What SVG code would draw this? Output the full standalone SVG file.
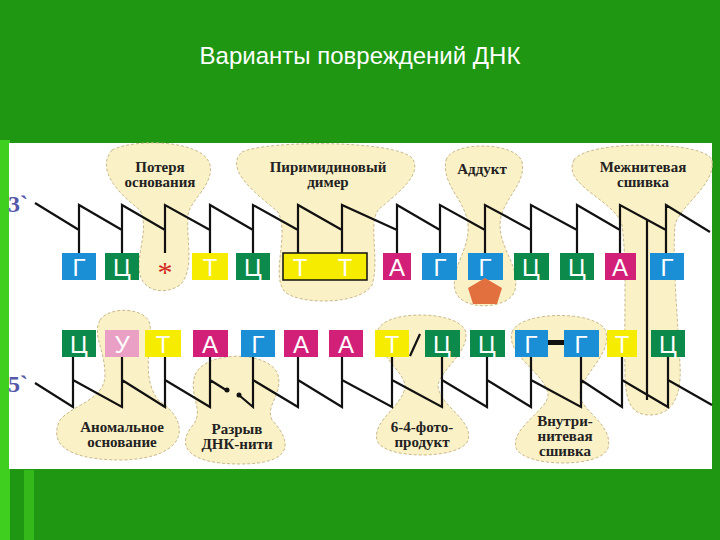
<svg xmlns="http://www.w3.org/2000/svg" width="720" height="540" viewBox="0 0 720 540">
<style>
.b{fill:#fbf1c6;stroke:#c9b98a;stroke-width:1;stroke-dasharray:3 2}
.s{fill:none;stroke:#111;stroke-width:2.2}
.lb{font-family:"Liberation Serif",serif;font-weight:bold;font-size:15px;fill:#222;text-anchor:middle}
.n{font-family:"Liberation Sans",sans-serif;font-size:24px;text-anchor:middle;fill:#fff}
.k{fill:#111}
.bl{fill:#1a8fd6}.gr{fill:#0b8a4c}.ye{fill:#f5ec00}.ma{fill:#d21f78}.pi{fill:#e9a0c4}
</style>
<rect width="720" height="540" fill="#1f9712"/>
<rect x="0" y="140" width="10" height="400" fill="#3fcf1e"/>
<rect x="24" y="470" width="10" height="70" fill="#35b81a"/>
<text x="360" y="64" font-family="Liberation Sans,sans-serif" font-size="24" fill="#fff" text-anchor="middle">Варианты повреждений ДНК</text>
<rect x="9" y="143" width="703" height="326" fill="#fff"/>
<g id="bubbles">
<path id="b1" class="b" d="M112,150 C135,138 205,140 210,165 C214,185 190,200 188,215 C186,240 195,270 180,285 C165,295 145,292 140,275 C135,255 150,230 140,210 C120,195 95,170 112,150Z"/>
<path id="b2" class="b" d="M242,152 C268,140 395,140 412,158 C424,175 395,195 378,210 C368,225 380,260 372,285 C360,305 300,305 285,292 C270,275 290,235 278,212 C262,198 222,170 242,152Z"/>
<path id="b3" class="b" d="M446,160 C453,140 517,142 522,162 C527,185 500,200 500,225 C500,250 520,265 515,290 C510,310 460,312 455,290 C450,268 470,250 468,225 C466,200 441,185 446,160Z"/>
<path id="b4" class="b" d="M574,160 C586,140 704,140 712,160 C716,185 680,205 675,225 C672,260 678,320 680,365 C682,400 670,415 650,415 C630,415 625,400 625,370 C624,320 627,260 622,225 C615,200 561,185 574,160Z"/>
<path id="b5" class="b" d="M100,320 C110,305 148,308 150,325 C153,345 140,375 158,400 C190,420 192,458 122,460 C60,460 50,440 60,420 C72,405 105,400 105,375 C105,350 92,335 100,320Z"/>
<path id="b6" class="b" d="M195,375 C205,350 270,350 278,375 C283,395 265,405 272,420 C295,445 290,464 240,464 C186,464 176,445 193,425 C205,410 188,395 195,375Z"/>
<path id="b7" class="b" d="M378,330 C385,310 455,310 465,330 C472,350 440,370 438,385 C438,405 474,420 468,440 C462,460 382,460 377,440 C372,420 405,405 405,385 C403,370 372,350 378,330Z"/>
<path id="b8" class="b" d="M512,332 C520,310 600,310 606,332 C612,355 580,375 580,395 C580,410 614,425 608,448 C602,468 525,468 516,448 C510,428 548,410 548,395 C548,375 505,355 512,332Z"/>
</g>
<g id="connectors">
<path class="s" d="M35,203 L79,230 M79,253 V205 L122,230 M122,253 V205 L165,230 M165,253 V205 L210,230 M210,253 V205 L253,230 M253,253 V205 L298,230 M298,253 V205 L342,230 M342,253 V205 L397,230 M397,253 V205 L440,230 M440,253 V205 L485,230 M485,253 V205 L531,230 M531,253 V205 L577,230 M577,253 V205 L620,230 M620,253 V205 L666,230 M666,253 V205 L710,232"/>
<path class="s" d="M35,383 L73,407 V357 M73,380 L122,407 V357 M122,380 L165,407 V357 M165,380 L210,407 V357 M210,380 L226,390 M240,396 L253,407 V357 M253,380 L298,407 V357 M298,380 L342,407 V357 M342,380 L392,407 V357 M392,380 L442,407 V357 M442,380 L487,407 V357 M487,380 L531,407 V357 M531,380 L581,407 V357 M581,380 L622,407 V357 M622,380 L668,407 V357 M668,380 L712,405"/>
<circle class="k" cx="227" cy="390" r="2.5"/><circle class="k" cx="239" cy="395" r="2.5"/>
<path class="s" d="M647,220 V400"/>
<path class="s" stroke-width="3" d="M420,334 L410,356"/>
<rect class="k" x="548" y="340" width="16" height="5"/>
</g>
<g id="top-bases">
<rect class="bl" x="62" y="253" width="34" height="27"/><text class="n" x="79" y="276">Г</text>
<rect class="gr" x="105" y="253" width="34" height="27"/><text class="n" x="122" y="276">Ц</text>
<text x="165" y="282" font-family="Liberation Serif,serif" font-size="30" fill="#d0281e" text-anchor="middle">*</text>
<rect class="ye" x="192" y="253" width="36" height="27"/><text class="n" x="210" y="276" fill="#111">Т</text>
<rect class="gr" x="236" y="253" width="34" height="27"/><text class="n" x="253" y="276">Ц</text>
<rect class="ye" x="283" y="253" width="84" height="27" stroke="#111" stroke-width="1.5"/><text class="n" x="300" y="276" fill="#111">Т</text><text class="n" x="345" y="276" fill="#111">Т</text>
<rect class="ma" x="383" y="253" width="28" height="27"/><text class="n" x="397" y="276">А</text>
<rect class="bl" x="422" y="253" width="35" height="27"/><text class="n" x="440" y="276">Г</text>
<rect class="bl" x="468" y="253" width="35" height="27"/><text class="n" x="485" y="276">Г</text>
<rect class="gr" x="514" y="253" width="35" height="27"/><text class="n" x="531" y="276">Ц</text>
<rect class="gr" x="560" y="253" width="34" height="27"/><text class="n" x="577" y="276">Ц</text>
<rect class="ma" x="605" y="253" width="31" height="27"/><text class="n" x="620" y="276">А</text>
<rect class="bl" x="650" y="253" width="34" height="27"/><text class="n" x="667" y="276">Г</text>
<polygon fill="#e2703e" points="485,278 502,288 497,304 473,304 468,288"/>
</g>
<g id="bottom-bases">
<rect class="gr" x="62" y="330" width="34" height="27"/><text class="n" x="79" y="353">Ц</text>
<rect class="pi" x="105" y="330" width="34" height="27"/><text class="n" x="122" y="353">У</text>
<rect class="ye" x="145" y="330" width="36" height="27"/><text class="n" x="163" y="353" fill="#111">Т</text>
<rect class="ma" x="193" y="330" width="35" height="27"/><text class="n" x="210" y="353">А</text>
<rect class="bl" x="241" y="330" width="34" height="27"/><text class="n" x="258" y="353">Г</text>
<rect class="ma" x="284" y="330" width="34" height="27"/><text class="n" x="301" y="353">А</text>
<rect class="ma" x="329" y="330" width="34" height="27"/><text class="n" x="346" y="353">А</text>
<rect class="ye" x="375" y="330" width="34" height="27"/><text class="n" x="392" y="353" fill="#111">Т</text>
<rect class="gr" x="425" y="330" width="35" height="27"/><text class="n" x="442" y="353">Ц</text>
<rect class="gr" x="470" y="330" width="35" height="27"/><text class="n" x="487" y="353">Ц</text>
<rect class="bl" x="515" y="330" width="33" height="27"/><text class="n" x="531" y="353">Г</text>
<rect class="bl" x="564" y="330" width="35" height="27"/><text class="n" x="581" y="353">Г</text>
<rect class="ye" x="607" y="330" width="30" height="27"/><text class="n" x="622" y="353" fill="#111">Т</text>
<rect class="gr" x="651" y="330" width="34" height="27"/><text class="n" x="668" y="353">Ц</text>
</g>
<g id="labels">
<text class="lb" x="160" y="172">Потеря</text><text class="lb" x="160" y="187">основания</text>
<text class="lb" x="328" y="172">Пиримидиновый</text><text class="lb" x="328" y="187">димер</text>
<text class="lb" x="482" y="174">Аддукт</text>
<text class="lb" x="643" y="172">Межнитевая</text><text class="lb" x="643" y="187">сшивка</text>
<text class="lb" x="122" y="432">Аномальное</text><text class="lb" x="122" y="447">основание</text>
<text class="lb" x="237" y="434">Разрыв</text><text class="lb" x="237" y="449">ДНК-нити</text>
<text class="lb" x="422" y="432">6-4-фото-</text><text class="lb" x="422" y="447">продукт</text>
<text class="lb" x="565" y="426">Внутри-</text><text class="lb" x="565" y="441">нитевая</text><text class="lb" x="565" y="456">сшивка</text>
<text x="8" y="212" font-family="Liberation Serif,serif" font-weight="bold" font-size="24" fill="#5558a8">3`</text>
<text x="8" y="392" font-family="Liberation Serif,serif" font-weight="bold" font-size="24" fill="#5558a8">5`</text>
</g>
</svg>
